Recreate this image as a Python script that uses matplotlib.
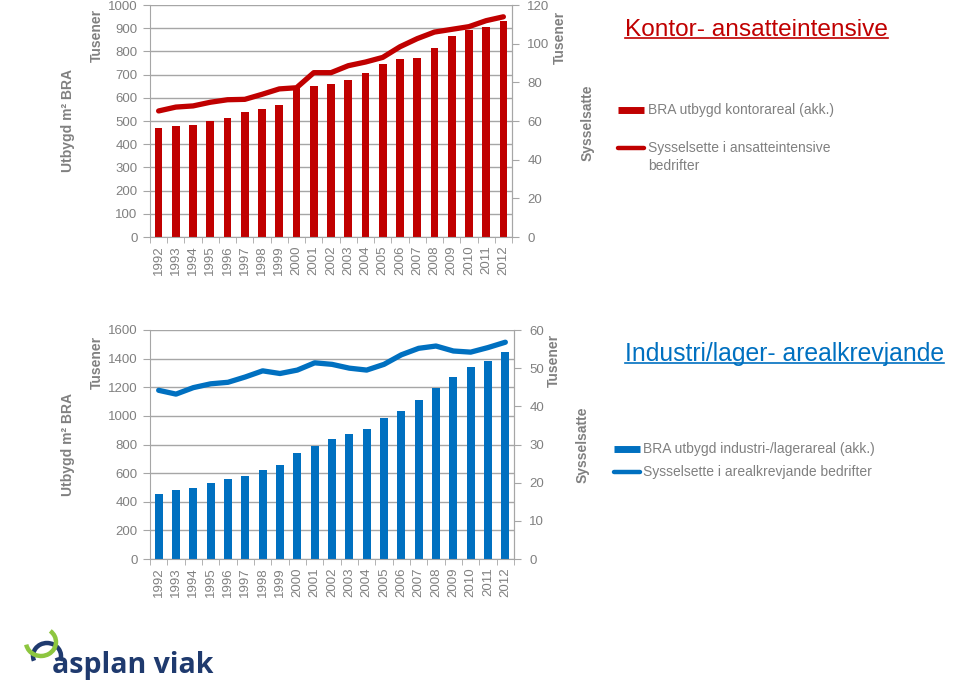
import matplotlib
matplotlib.use('Agg')
import matplotlib.pyplot as plt
from matplotlib.lines import Line2D
from matplotlib.patches import Arc
import numpy as np

plt.rcParams['font.family'] = ['Liberation Sans', 'DejaVu Sans']

# Data
years = [str(y) for y in range(1992, 2013)]
kontor_bra = [470, 480, 481, 499, 512, 537, 550, 570, 645, 650, 661, 677,
              707, 747, 767, 773, 816, 868, 894, 905, 930]
kontor_syss = [65.2, 67.2, 67.8, 69.7, 71.0, 71.2, 73.8, 76.6, 77.2, 85.0, 85.0,
               88.6, 90.5, 92.9, 98.4, 102.6, 106.0, 107.4, 108.8, 111.9, 113.9]
industri_bra = [456, 480, 498, 531, 557, 582, 622, 654, 741, 787, 836, 871,
                906, 985, 1032, 1111, 1195, 1269, 1341, 1386, 1444]
industri_syss = [44.2, 43.2, 44.9, 45.9, 46.3, 47.7, 49.3, 48.6, 49.5, 51.4, 51.0,
                 50.0, 49.5, 51.0, 53.5, 55.2, 55.8, 54.5, 54.2, 55.4, 56.8]

RED = '#C00000'
BLUE = '#0070C0'
GRAY = '#808080'
GRID = '#a6a6a6'

W, H = 960, 685
fig = plt.figure(figsize=(9.6, 6.85), dpi=100)


def fx(px):
    return px / W


def fy(py):
    return 1 - py / H


def panel(rect, bars, line, color, ymax, ystep, y2max, y2step):
    ax = fig.add_axes(rect)
    x = np.arange(len(years))
    ax.bar(x, bars, width=0.45, color=color, zorder=2)
    ax.set_xlim(-0.5, len(years) - 0.5)
    ax.set_ylim(0, ymax)
    ax.set_yticks(np.arange(0, ymax + 1, ystep))
    ax.set_xticks(x)
    ax.set_xticklabels(years, rotation=90)
    ax.set_xticks(np.arange(-0.5, len(years)), minor=True)
    ax.tick_params(axis='x', which='major', length=0, pad=6, labelsize=9.5, labelcolor=GRAY)
    ax.tick_params(axis='x', which='minor', length=4, color=GRID, direction='out')
    ax.tick_params(axis='y', length=5, color=GRID, labelsize=9.5, labelcolor=GRAY, pad=4)
    ax.yaxis.grid(True, color=GRID, linewidth=1)
    ax.set_axisbelow(True)
    ax.spines['top'].set_visible(False)
    for s in ['left', 'right', 'bottom']:
        ax.spines[s].set_color(GRID)

    ax2 = ax.twinx()
    ax2.plot(x, line, color=color, linewidth=3.8, solid_capstyle='round', zorder=3)
    ax2.set_ylim(0, y2max)
    ax2.set_yticks(np.arange(0, y2max + 1, y2step))
    ax2.tick_params(axis='y', length=5, color=GRID, labelsize=9.5, labelcolor=GRAY, pad=6)
    for s in ax2.spines.values():
        s.set_visible(False)
    ax2.spines['right'].set_visible(True)
    ax2.spines['right'].set_color(GRID)
    return ax, ax2


panel([fx(150), fy(237), fx(362), 232 / H], kontor_bra, kontor_syss, RED, 1000, 100, 120, 20)
panel([fx(150), fy(559), fx(364), 229 / H], industri_bra, industri_syss, BLUE, 1600, 200, 60, 10)

lab = dict(color=GRAY, fontsize=10, fontweight='bold', rotation=90, ha='center', va='center')
fig.text(fx(68), fy(120), 'Utbygd m² BRA', **lab)
fig.text(fx(97), fy(35), 'Tusener', **lab)
fig.text(fx(560), fy(37), 'Tusener', **lab)
fig.text(fx(588), fy(123), 'Sysselsatte', **lab)
fig.text(fx(68), fy(445), 'Utbygd m² BRA', **lab)
fig.text(fx(97), fy(362), 'Tusener', **lab)
fig.text(fx(554), fy(360), 'Tusener', **lab)
fig.text(fx(583), fy(445), 'Sysselsatte', **lab)

# titles (underlined)
t1 = fig.text(fx(625), fy(30), 'Kontor- ansatteintensive', color=RED, fontsize=17.6,
              ha='left', va='center')
t2 = fig.text(fx(625), fy(354), 'Industri/lager- arealkrevjande', color=BLUE, fontsize=17.8,
              ha='left', va='center')
fig.canvas.draw()
r = fig.canvas.get_renderer()
for t, c in [(t1, RED), (t2, BLUE)]:
    bb = t.get_window_extent(r).transformed(fig.transFigure.inverted())
    fig.add_artist(Line2D([bb.x0, bb.x1], [bb.y0 + 0.005, bb.y0 + 0.005],
                          transform=fig.transFigure, color=c, linewidth=1.2))

# legends
leg = dict(color=GRAY, fontsize=10, ha='left', va='center')
fig.add_artist(Line2D([fx(618), fx(644)], [fy(110), fy(110)], transform=fig.transFigure,
                      color=RED, linewidth=5, solid_capstyle='butt'))
fig.text(fx(648), fy(110), 'BRA utbygd kontorareal (akk.)', **leg)
fig.add_artist(Line2D([fx(618), fx(644)], [fy(148), fy(148)], transform=fig.transFigure,
                      color=RED, linewidth=3.2, solid_capstyle='round'))
fig.text(fx(648), fy(157), 'Sysselsette i ansatteintensive\nbedrifter', linespacing=1.3, **leg)

fig.add_artist(Line2D([fx(614), fx(640)], [fy(449), fy(449)], transform=fig.transFigure,
                      color=BLUE, linewidth=5, solid_capstyle='butt'))
fig.text(fx(643), fy(449), 'BRA utbygd industri-/lagerareal (akk.)', **leg)
fig.add_artist(Line2D([fx(614), fx(640)], [fy(472), fy(472)], transform=fig.transFigure,
                      color=BLUE, linewidth=3.2, solid_capstyle='round'))
fig.text(fx(643), fy(472), 'Sysselsette i arealkrevjande bedrifter', **leg)

# logo
NAVY = '#1f3a6e'
GREEN = '#8dc63f'
fig.text(fx(52), fy(673), 'asplan viak', color=NAVY, fontsize=20.5, fontweight='bold',
         family='Open Sans', ha='left', va='baseline')
lax = fig.add_axes([fx(15), fy(680), fx(60), 60 / H])
lax.set_xlim(0, 60)
lax.set_ylim(0, 60)
lax.axis('off')
lax.add_patch(Arc((32, 24), 28, 26, angle=0, theta1=-20, theta2=200, color=NAVY, linewidth=3.2))
lax.add_patch(Arc((26, 38), 30, 28, angle=0, theta1=190, theta2=410, color=GREEN, linewidth=3.2))

fig.savefig('out.png', dpi=100)
